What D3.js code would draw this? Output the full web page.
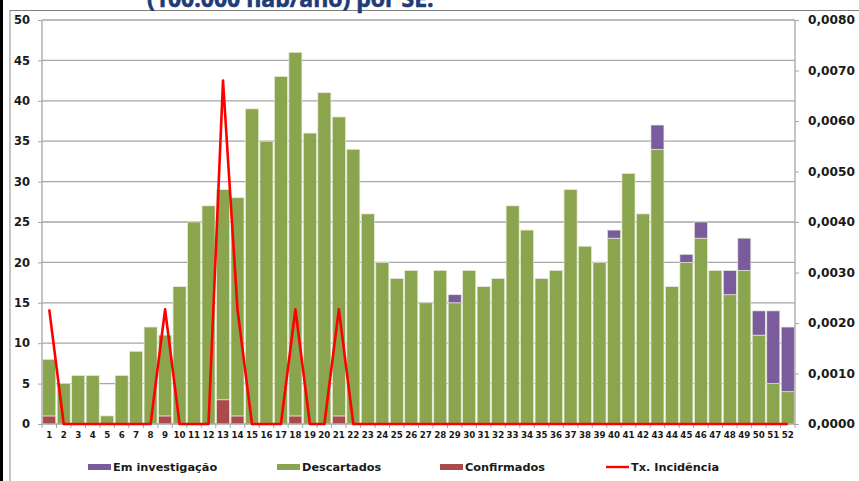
<!DOCTYPE html>
<html>
<head>
<meta charset="utf-8">
<script src="https://cdn.jsdelivr.net/npm/d3@7"></script>
<style>
  body { margin: 0; background: #fff; }
  svg { display: block; font-family: 'DejaVu Sans', Verdana, sans-serif; }
</style>
</head>
<body>
<script>
// semanas epidemiologicas
const semanas = d3.range(1, 53);
const confirmados = [1,0,0,0,0,0,0,0,1,0,0,0,3,1,0,0,0,1,0,0,1,0,0,0,0,0,0,0,0,0,0,0,0,0,0,0,0,0,0,0,0,0,0,0,0,0,0,0,0,0,0,0];
const descartados = [7,5,6,6,1,6,9,12,10,17,25,27,26,27,39,35,43,45,36,41,37,34,26,20,18,19,15,19,15,19,17,18,27,24,18,19,29,22,20,23,31,26,34,17,20,23,19,16,19,11,5,4];
const investigacao = [0,0,0,0,0,0,0,0,0,0,0,0,0,0,0,0,0,0,0,0,0,0,0,0,0,0,0,0,1,0,0,0,0,0,0,0,0,0,0,1,0,0,3,0,1,2,0,3,4,3,9,8];
const incidencia = [0.00227,0,0,0,0,0,0,0,0.00227,0,0,0,0.0068,0.00227,0,0,0,0.00227,0,0,0.00227,0,0,0,0,0,0,0,0,0,0,0,0,0,0,0,0,0,0,0,0,0,0,0,0,0,0,0,0,0,0,0];
const ticksEsq = d3.range(0, 51, 5);
const ticksDir = d3.range(0, 0.0081, 0.001);

const W = 859, H = 481;
const x0 = 42, x1 = 795, yTop = 20, yBot = 424;

const svg = d3.select('body').append('svg').attr('width', W).attr('height', H);

// borda preta esquerda e moldura
svg.append('rect').attr('x', 0).attr('y', 0).attr('width', 3).attr('height', H).attr('fill', '#000');
svg.append('line').attr('x1', 10).attr('x2', 10).attr('y1', 10).attr('y2', H).attr('stroke', '#8c8c8c').attr('stroke-width', 1);
svg.append('line').attr('x1', 10).attr('x2', W).attr('y1', 10.5).attr('y2', 10.5).attr('stroke', '#7f7f7f').attr('stroke-width', 1.2);

// titulo cortado (no original ele aparece cortado no topo)
svg.append('text')
  .attr('x', 147).attr('y', 7)
  .attr('font-family', "'Open Sans', sans-serif")
  .attr('font-weight', 'bold')
  .attr('font-size', 23)
  .attr('fill', '#1f3b78')
  .attr('stroke', '#1f3b78').attr('stroke-width', 0.6)
  .text('(100.000 hab/ano) por SE:');

const x = d3.scaleBand().domain(semanas).range([x0, x1]).paddingInner(0.1).paddingOuter(0.05);
const y = d3.scaleLinear().domain([0, 50]).range([yBot, yTop]);
const y2 = d3.scaleLinear().domain([0, 0.008]).range([yBot, yTop]);

// grade
svg.append('g').selectAll('line').data(ticksEsq.slice(1)).join('line')
  .attr('x1', x0).attr('x2', x1)
  .attr('y1', d => y(d)).attr('y2', d => y(d))
  .attr('stroke', '#a6a6a6').attr('stroke-width', 1.3);

// barras empilhadas
const tabela = semanas.map((s, i) => ({ semana: s, conf: confirmados[i], desc: descartados[i], inv: investigacao[i] }));
const stack = d3.stack().keys(['conf', 'desc', 'inv'])(tabela);
const cores = { conf: '#aa4a4b', desc: '#8aa54e', inv: '#7a5b9b' };

svg.append('g').selectAll('g').data(stack).join('g')
  .attr('fill', d => cores[d.key])
  .selectAll('rect').data(d => d.filter(p => p[1] > p[0])).join('rect')
  .attr('x', d => x(d.data.semana))
  .attr('width', x.bandwidth())
  .attr('y', d => y(d[1]))
  .attr('height', d => y(d[0]) - y(d[1]))
  .attr('stroke', '#e4ead8').attr('stroke-width', 0.7);

// eixos
svg.append('line').attr('x1', x0).attr('x2', x0).attr('y1', yTop).attr('y2', yBot).attr('stroke', '#a6a6a6').attr('stroke-width', 1.3);
svg.append('line').attr('x1', x1).attr('x2', x1).attr('y1', yTop).attr('y2', yBot).attr('stroke', '#a6a6a6').attr('stroke-width', 1.3);
svg.append('line').attr('x1', x0).attr('x2', x1).attr('y1', yBot).attr('y2', yBot).attr('stroke', '#a6a6a6').attr('stroke-width', 1.3);

const eixoEsq = svg.append('g').attr('transform', `translate(${x0},0)`)
  .call(d3.axisLeft(y).tickValues(ticksEsq).tickSize(4).tickPadding(8).tickFormat(d3.format('d')));
eixoEsq.select('.domain').remove();
eixoEsq.selectAll('line').attr('stroke', '#a6a6a6');
eixoEsq.selectAll('text').attr('font-size', 11.5).attr('font-weight', 'bold').attr('fill', '#1a1a1a').attr('font-family', "'DejaVu Sans', sans-serif");

const eixoDir = svg.append('g').attr('transform', `translate(${x1},0)`)
  .call(d3.axisRight(y2).tickValues(ticksDir).tickSize(4).tickPadding(9).tickFormat(d => d.toFixed(4).replace('.', ',')));
eixoDir.select('.domain').remove();
eixoDir.selectAll('line').attr('stroke', '#a6a6a6');
eixoDir.selectAll('text').attr('font-size', 12.2).attr('font-weight', 'bold').attr('fill', '#1a1a1a').attr('font-family', "'DejaVu Sans', sans-serif");

// marcas entre categorias
const passo = (x1 - x0) / semanas.length;
svg.append('g').selectAll('line').data(d3.range(0, semanas.length + 1)).join('line')
  .attr('x1', d => x0 + d * passo).attr('x2', d => x0 + d * passo)
  .attr('y1', yBot).attr('y2', yBot + 4)
  .attr('stroke', '#a6a6a6');

const eixoX = svg.append('g').attr('transform', `translate(0,${yBot})`)
  .call(d3.axisBottom(x).tickSize(0).tickPadding(8));
eixoX.select('.domain').remove();
eixoX.selectAll('text').attr('font-size', 8.7).attr('font-weight', 'bold').attr('fill', '#1a1a1a').attr('font-family', "'DejaVu Sans', sans-serif");

// linha de incidencia
const linha = d3.line()
  .x((d, i) => x(semanas[i]) + x.bandwidth() / 2)
  .y(d => y2(d));
svg.append('path').datum(incidencia)
  .attr('d', linha)
  .attr('fill', 'none').attr('stroke', '#ff0000').attr('stroke-width', 2.6).attr('stroke-linejoin', 'round');

// legenda
const legenda = [
  { nome: 'Em investigação', cor: cores.inv, tipo: 'rect', x: 88 },
  { nome: 'Descartados', cor: cores.desc, tipo: 'rect', x: 277 },
  { nome: 'Confirmados', cor: cores.conf, tipo: 'rect', x: 440 },
  { nome: 'Tx. Incidência', cor: '#ff0000', tipo: 'line', x: 606 }
];
const lg = svg.append('g').selectAll('g').data(legenda).join('g')
  .attr('transform', d => `translate(${d.x},467)`);
lg.filter(d => d.tipo === 'rect').append('rect')
  .attr('x', 0).attr('y', -3).attr('width', 23).attr('height', 6).attr('fill', d => d.cor);
lg.filter(d => d.tipo === 'line').append('line')
  .attr('x1', 0).attr('x2', 23).attr('y1', 0).attr('y2', 0).attr('stroke', d => d.cor).attr('stroke-width', 2.4);
lg.append('text')
  .attr('x', 25).attr('y', 4)
  .attr('font-size', 11.3).attr('font-weight', 'bold').attr('fill', '#1a1a1a')
  .text(d => d.nome);
</script>
</body>
</html>
